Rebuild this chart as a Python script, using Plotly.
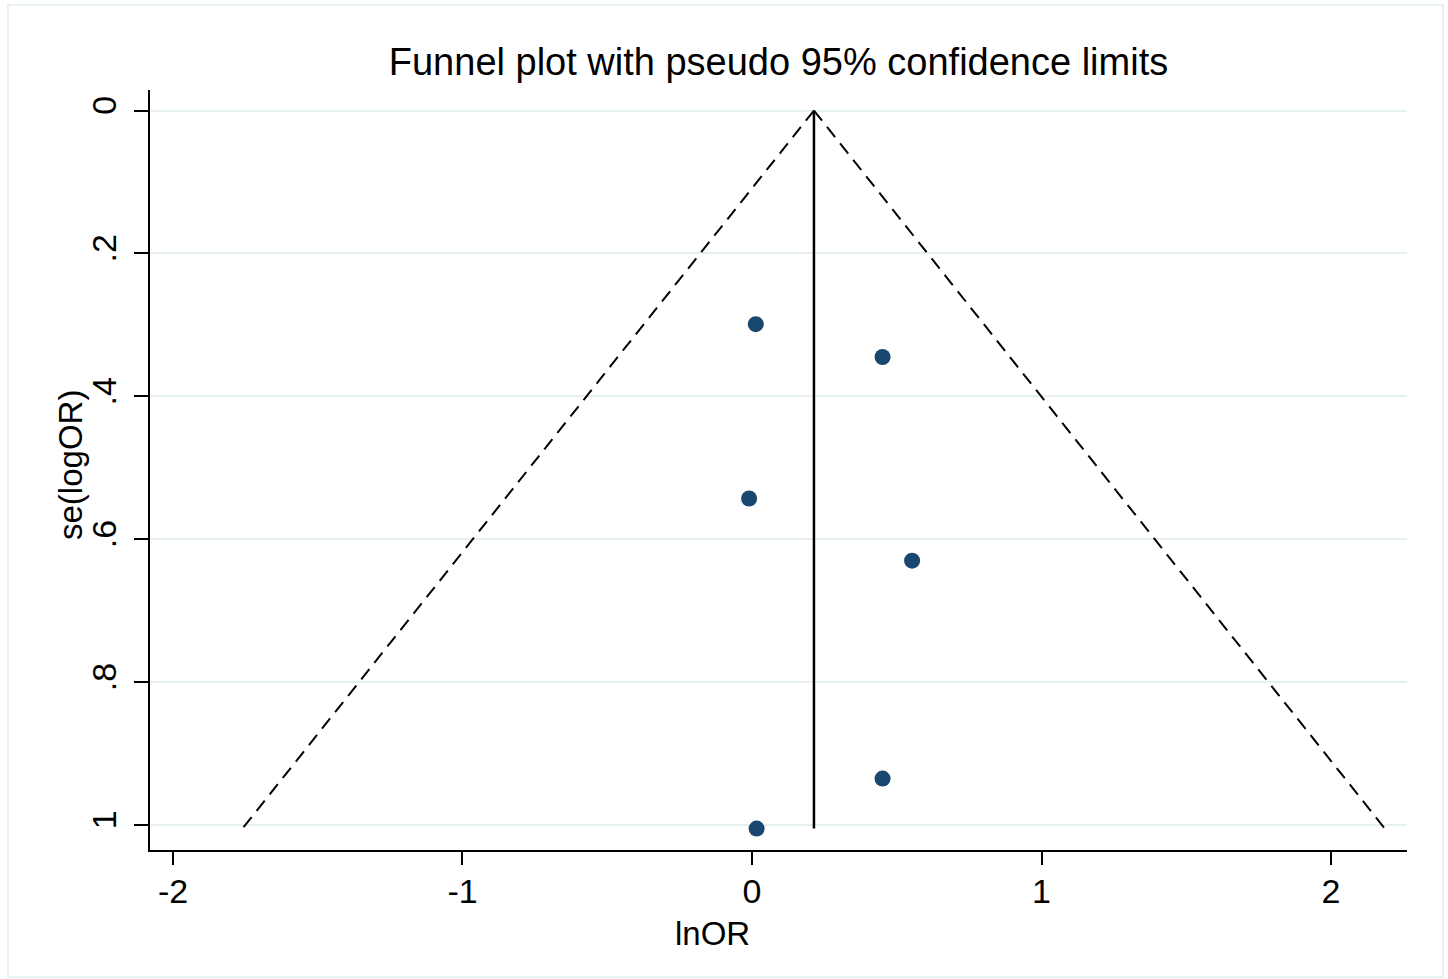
import plotly.graph_objects as go

# Study estimates
ln_or = [0.013, 0.451, -0.010, 0.553, 0.451, 0.016]
se_log_or = [0.299, 0.345, 0.543, 0.630, 0.935, 1.005]

# Pooled estimate line and pseudo 95% confidence limits
pooled = [0.214, 0.214]
pooled_se = [0.0, 1.005]
limit_se = [0.0, 1.005]
limit_lower = [0.214, -1.760]
limit_upper = [0.214, 2.186]

x_ticks = [-2, -1, 0, 1, 2]
y_ticks = [0, 0.2, 0.4, 0.6, 0.8, 1.0]
y_tick_text = ["0", ".2", ".4", ".6", ".8", "1"]

W, H = 1448, 979
L, R, T, B = 150, 41, 90, 129
pw, ph = W - L - R, H - T - B

def px_x(p):
    return (p - L) / pw

def px_y(p):
    return (H - B - p) / ph

fig = go.Figure()
fig.add_trace(go.Scatter(x=limit_lower, y=limit_se, mode="lines",
                         line=dict(color="black", width=2, dash="13px,8px"),
                         showlegend=False, hoverinfo="skip"))
fig.add_trace(go.Scatter(x=limit_upper, y=limit_se, mode="lines",
                         line=dict(color="black", width=2, dash="13px,8px"),
                         showlegend=False, hoverinfo="skip"))
fig.add_trace(go.Scatter(x=pooled, y=pooled_se, mode="lines",
                         line=dict(color="black", width=2.5),
                         showlegend=False, hoverinfo="skip"))
fig.add_trace(go.Scatter(x=ln_or, y=se_log_or, mode="markers",
                         marker=dict(color="#1a476f", size=16),
                         showlegend=False))

font_family = "Liberation Sans, Arial, sans-serif"

fig.update_layout(
    width=W, height=H,
    margin=dict(l=L, r=R, t=T, b=B),
    paper_bgcolor="white", plot_bgcolor="white",
    font=dict(family=font_family, color="black", size=32),
    title=dict(text="Funnel plot with pseudo 95% confidence limits",
               x=0.5, xref="paper", y=1 - 62 / H, yref="container",
               yanchor="middle", xanchor="center",
               font=dict(size=38, family=font_family, color="black")),
    xaxis=dict(range=[-2.0794, 2.2625], tickvals=x_ticks,
               ticktext=[str(v) if v >= 0 else "-" + str(-v) for v in x_ticks],
               showgrid=False, zeroline=False, showline=True,
               linecolor="black", linewidth=2, ticks="outside", ticklen=13,
               tickwidth=2, tickcolor="black", ticklabelstandoff=-3,
               tickfont=dict(size=34, family=font_family)),
    yaxis=dict(range=[1.0350, -0.0287], tickvals=y_ticks, ticktext=y_tick_text,
               tickangle=-90, showgrid=True, gridcolor="#e6eff1", gridwidth=2,
               zeroline=False, showline=True, linecolor="black", linewidth=2,
               ticks="outside", ticklen=14, tickwidth=2, tickcolor="black",
               ticklabelstandoff=4,
               tickfont=dict(size=34, family=font_family)),
    annotations=[
        dict(text="lnOR", x=px_x(712), y=px_y(933), xref="paper", yref="paper",
             showarrow=False, xanchor="center", yanchor="middle",
             font=dict(size=33, family=font_family)),
        dict(text="se(logOR)", x=px_x(70), y=px_y(465), xref="paper", yref="paper",
             showarrow=False, xanchor="center", yanchor="middle", textangle=-90,
             font=dict(size=33, family=font_family)),
    ],
    shapes=[
        dict(type="rect", xref="paper", yref="paper",
             x0=px_x(8), x1=px_x(1443), y0=px_y(977), y1=px_y(5),
             line=dict(color="#e8f1f3", width=2), fillcolor="rgba(0,0,0,0)",
             layer="below"),
    ],
)

fig.write_html("out.html")
